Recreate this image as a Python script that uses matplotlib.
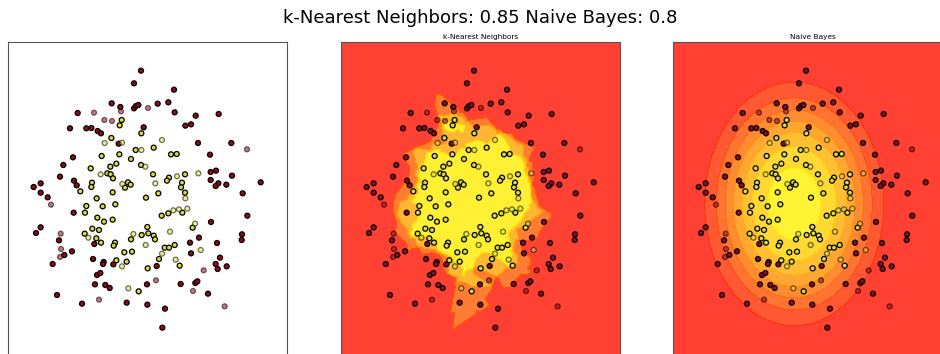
import matplotlib
matplotlib.use("Agg")
import matplotlib.pyplot as plt
from matplotlib.colors import ListedColormap
import numpy as np

# outer class (red), training points
red_train_x = [-0.18, -0.39, 0.81, -1.06, -0.80, -0.39, -0.33, -0.26, 0.32, 0.64,
               -2.08, 0.83, 1.46, 2.15, -2.31, -1.82, -1.67, -1.48, -1.38, -0.10,
               1.15, 1.32, -0.85, 1.53, 2.53, 1.89, -2.22, -2.51, -2.61, 1.91,
               2.07, 2.55, 1.91, 2.14, 2.06, 2.38, 3.41, -3.40, -3.19, -2.19,
               -2.11, -3.19, -2.98, 2.87, -2.20, 3.01, 1.92, -3.19, -3.33, -2.64,
               -1.58, 1.29, 1.56, 2.10, 2.85, 2.84, 1.32, -2.25, -2.48, -2.83,
               -1.62, -1.30, -1.32, -1.01, 0.29, 2.19, 2.06, 2.12, 2.39, -1.50,
               -1.40, -1.56, -1.25, -1.12, 0.00, 1.01, 1.45, 1.51, 1.83, -2.70,
               -1.95, -0.61, 0.01, 0.54, 0.46]
red_train_y = [3.82, 3.44, 3.25, 2.84, 2.73, 2.69, 2.76, 2.79, 2.83, 2.87,
               2.55, 2.57, 2.47, 2.52, 2.09, 2.09, 2.10, 2.01, 1.94, 2.12,
               2.17, 2.21, 1.63, 1.65, 1.65, 1.30, 1.22, 0.99, 0.64, 0.78,
               0.82, 0.67, 0.54, 0.44, 0.36, 0.40, 0.47, 0.33, 0.44, 0.52,
               0.38, 0.16, 0.02, 0.14, -0.44, -0.53, -0.72, -0.88, -1.05, -1.27,
               -1.38, -1.34, -1.19, -1.35, -1.09, -1.26, -1.66, -1.60, -1.71, -1.98,
               -1.83, -1.92, -1.98, -1.99, -2.04, -1.79, -1.98, -2.13, -2.05, -2.31,
               -2.25, -2.59, -2.61, -2.70, -2.59, -2.58, -2.55, -2.50, -2.87, -2.91,
               -3.17, -3.14, -3.20, -3.32, -3.89]

# outer class (red), test points
red_test_x = [-0.78, 0.03, -1.59, -1.28, -1.05, 3.00, -2.88, -2.59, -2.58, -2.61,
              1.70, 0.27, 1.38, -1.44, 2.33]
red_test_y = [2.60, 2.70, 2.56, 2.34, 2.31, 1.46, -0.20, -1.07, -1.53, -1.77,
              -2.17, -2.47, -2.79, -3.05, -3.25]

# inner class (yellow), training points
yellow_train_x = [-0.76, -0.82, -0.17, -1.07, -0.34, 0.20, 0.72, 0.89, -1.36, -0.83,
                  -0.48, -1.69, -1.10, -0.92, -0.18, -1.19, -1.09, -1.02, 0.18, 0.66,
                  0.60, 1.14, -1.65, -1.67, -2.00, -0.57, -0.49, -0.66, 1.05, 1.02,
                  1.14, -1.03, 0.34, -1.51, -0.03, -1.82, -1.33, -0.95, -1.86, -1.49,
                  -1.29, -1.03, 0.44, 0.64, 1.06, 1.37, -1.87, -1.64, -1.44, -1.52,
                  -1.38, -0.96, -1.00, -0.48, -0.16, 0.01, 0.04, 0.20, 0.24, 0.83,
                  0.53, 0.66, 0.36, -0.92, -0.61, -0.68, -0.45, 0.02, 0.98, -0.25]
yellow_train_y = [2.34, 2.18, 1.94, 1.80, 1.44, 1.51, 1.31, 1.32, 1.26, 1.31,
                  1.17, 0.89, 0.94, 1.03, 0.99, 0.74, 0.71, 0.59, 0.71, 0.61,
                  0.52, 0.71, 0.46, 0.33, 0.20, 0.47, 0.40, 0.31, 0.46, 0.32,
                  0.16, 0.17, 0.14, -0.01, 0.01, -0.24, -0.25, -0.19, -0.44, -0.59,
                  -0.71, -0.65, -0.53, -0.46, -0.44, -0.89, -1.07, -0.92, -0.96, -1.21,
                  -1.34, -1.34, -1.43, -1.24, -1.11, -0.87, -1.06, -1.13, -1.24, -1.41,
                  -1.49, -1.49, -1.83, -1.87, -1.91, -1.63, -1.61, -2.11, -2.03, -2.80]

# inner class (yellow), test points
yellow_test_x = [-1.27, -0.75, 0.45, -0.17, -0.05, -1.39, 0.90, 1.54, -0.74, 0.25,
                 1.15, 0.79, 0.96, 1.21, 1.44, -1.76, -0.41, 0.69, -0.04, 0.45,
                 1.61, 0.86, -0.75, -0.56]
yellow_test_y = [1.65, 1.66, 1.74, 1.44, 0.94, 0.71, 0.65, 0.74, 0.42, 0.44,
                 -0.01, -0.37, -0.34, -0.32, -0.77, -1.19, -1.08, -1.01, -1.41, -1.67,
                 -1.56, -1.85, -2.05, -2.71]

scores = {"k-Nearest Neighbors": 0.85, "Naive Bayes": 0.8}


def knn_proba(X_train, y_train, grid, k=3):
    d = ((grid[:, None, :] - X_train[None, :, :]) ** 2).sum(axis=2)
    idx = np.argsort(d, axis=1)[:, :k]
    return y_train[idx].mean(axis=1)


def gnb_proba(X_train, y_train, grid):
    eps = 1e-9 * X_train.var(axis=0).max()
    logp = []
    for c in (0, 1):
        Xc = X_train[y_train == c]
        mu = Xc.mean(axis=0)
        var = Xc.var(axis=0) + eps
        ll = -0.5 * np.sum(np.log(2 * np.pi * var)) - 0.5 * (((grid - mu) ** 2) / var).sum(axis=1)
        logp.append(ll + np.log(len(Xc) / len(X_train)))
    logp = np.array(logp)
    logp -= logp.max(axis=0)
    p = np.exp(logp)
    return p[1] / p.sum(axis=0)


def main():
    X_train = np.column_stack([red_train_x + yellow_train_x, red_train_y + yellow_train_y])
    y_train = np.array([0] * len(red_train_x) + [1] * len(yellow_train_x))
    X_test = np.column_stack([red_test_x + yellow_test_x, red_test_y + yellow_test_y])
    y_test = np.array([0] * len(red_test_x) + [1] * len(yellow_test_x))

    x_min, x_max = -4.17, 4.2
    y_min, y_max = -4.89, 4.68
    xx, yy = np.meshgrid(np.arange(x_min, x_max + 0.03, 0.03),
                         np.arange(y_min, y_max + 0.03, 0.03))
    grid = np.c_[xx.ravel(), yy.ravel()]

    cm = plt.cm.autumn
    cm_bright = ListedColormap(["#940818", "#DCDC38"])

    fig = plt.figure(figsize=(9.4, 3.54), dpi=100)
    lefts = [8 / 940, 341 / 940, 673 / 940]
    axes = [fig.add_axes([l, -7 / 354, 279 / 940, 319 / 354]) for l in lefts]

    names = [None, "k-Nearest Neighbors", "Naive Bayes"]
    for ax, name in zip(axes, names):
        if name == "k-Nearest Neighbors":
            Z = knn_proba(X_train, y_train, grid).reshape(xx.shape)
            ax.contourf(xx, yy, Z, cmap=cm, alpha=0.8)
        elif name == "Naive Bayes":
            Z = gnb_proba(X_train, y_train, grid).reshape(xx.shape)
            ax.contourf(xx, yy, Z, cmap=cm, alpha=0.8)
        ax.scatter(X_train[:, 0], X_train[:, 1], c=y_train, cmap=cm_bright,
                   s=13, edgecolors="k", linewidths=0.9)
        ax.scatter(X_test[:, 0], X_test[:, 1], c=y_test, cmap=cm_bright,
                   s=13, edgecolors="k", linewidths=0.9, alpha=0.55)
        ax.set_xlim(x_min, x_max)
        ax.set_ylim(y_min, y_max)
        ax.set_xticks(())
        ax.set_yticks(())
        for sp in ax.spines.values():
            sp.set_color("#555555")
        if name:
            ax.set_title(name, fontsize=5.3, pad=2)

    title = " ".join("%s: %s" % (k, v) for k, v in scores.items())
    fig.text(480 / 940, 1 - 18 / 354, title, ha="center", va="center", fontsize=13)
    fig.savefig("out.png", dpi=100)


if __name__ == '__main__':
    main()
